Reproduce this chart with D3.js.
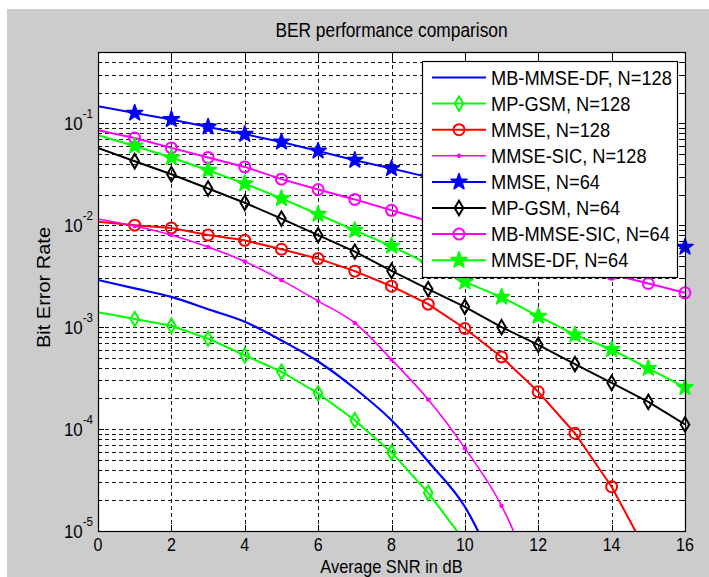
<!DOCTYPE html>
<html>
<head>
<meta charset="utf-8">
<script src="https://cdn.jsdelivr.net/npm/d3@7/dist/d3.min.js"></script>
<style>
  body { margin: 0; background: #fff; }
  text { font-family: "Liberation Sans", Arial, sans-serif; fill: #000; }
</style>
</head>
<body>
<div id="chart"></div>
<script>
// SNR points (dB)
const snr = d3.range(0, 17);

// BER values, one entry per SNR point
// (the last value of the steep curves is where the line leaves the axes)
const mbMmseDf128 = [2.9e-3, 2.4e-3, 1.98e-3, 1.5e-3, 1.13e-3, 7.4e-4, 4.6e-4, 2.5e-4, 1.22e-4, 4.8e-5, 1.73e-5, 3.2e-6];
const mpGsm128 = [1.4e-3, 1.2e-3, 1.03e-3, 7.7e-4, 5.3e-4, 3.65e-4, 2.24e-4, 1.22e-4, 5.9e-5, 2.37e-5, 7.9e-6];
const mmse128 = [1.08e-2, 1.0e-2, 9.4e-3, 8.0e-3, 7.1e-3, 5.8e-3, 4.7e-3, 3.54e-3, 2.52e-3, 1.68e-3, 9.7e-4, 5.1e-4, 2.32e-4, 9.1e-5, 2.72e-5, 5.8e-6];
const mmseSic128 = [1.15e-2, 9.8e-3, 8.0e-3, 6.1e-3, 4.4e-3, 2.89e-3, 1.8e-3, 1.1e-3, 4.8e-4, 1.95e-4, 6.5e-5, 1.77e-5, 2.6e-6];
const mmse64 = [0.147, 0.126, 0.109, 0.092, 0.078, 0.0656, 0.0535, 0.0434, 0.036, 0.0296, 0.0241, 0.0195, 0.0156, 0.01245, 0.0099, 0.0078, 0.0061];
const mpGsm64 = [0.0573, 0.0424, 0.0316, 0.0229, 0.0166, 0.0116, 7.98e-3, 5.5e-3, 3.56e-3, 2.36e-3, 1.58e-3, 1.0e-3, 6.7e-4, 4.34e-4, 2.84e-4, 1.85e-4, 1.11e-4];
const mbMmseSic64 = [0.0853, 0.0718, 0.0573, 0.0461, 0.0373, 0.0283, 0.0224, 0.0179, 0.014, 0.011, 8.6e-3, 6.76e-3, 5.3e-3, 4.2e-3, 3.3e-3, 2.68e-3, 2.17e-3];
const mmseDf64 = [0.0762, 0.0599, 0.0461, 0.0346, 0.0256, 0.0183, 0.0128, 8.9e-3, 6.24e-3, 4.17e-3, 2.78e-3, 1.97e-3, 1.28e-3, 8.4e-4, 6.04e-4, 3.94e-4, 2.56e-4];

const seriesNames = ['MB-MMSE-DF, N=128', 'MP-GSM, N=128', 'MMSE, N=128', 'MMSE-SIC, N=128',
                     'MMSE, N=64', 'MP-GSM, N=64', 'MB-MMSE-SIC, N=64', 'MMSE-DF, N=64'];
const seriesValues = [mbMmseDf128, mpGsm128, mmse128, mmseSic128, mmse64, mpGsm64, mbMmseSic64, mmseDf64];
const xTicks = [0, 2, 4, 6, 8, 10, 12, 14, 16];
const yDecades = [-5, -4, -3, -2, -1];
const xDomain = [0, 16];
const yDomain = [1e-5, 0.5];

const titleText = 'BER performance comparison';
const xLabelText = 'Average SNR in dB';
const yLabelText = 'Bit Error Rate';

// styles per series (same order as the names)
const styles = [
    { color: '#0000ff', marker: null, width: 2.2, curve: d3.curveMonotoneX },
    { color: '#00ff00', marker: 'diamond', width: 2 },
    { color: '#ff0000', marker: 'circle', width: 2 },
    { color: '#ff00ff', marker: 'dot', width: 1.6, curve: d3.curveMonotoneX },
    { color: '#0000ff', marker: 'star', width: 2 },
    { color: '#000000', marker: 'diamond', width: 2 },
    { color: '#ff00ff', marker: 'circle', width: 2 },
    { color: '#00ff00', marker: 'star', width: 2 }
];

const width = 709, height = 577;
const plot = { left: 98, right: 685, top: 52, bottom: 531 };
const SX = 0.89; // the source glyphs are a little narrower than Arial

const svg = d3.select('#chart').append('svg')
    .attr('width', width)
    .attr('height', height);

// figure background
svg.append('rect')
    .attr('x', 7).attr('y', 9)
    .attr('width', width - 7).attr('height', height - 9)
    .attr('fill', '#cccccc');

svg.append('rect')
    .attr('x', plot.left).attr('y', plot.top)
    .attr('width', plot.right - plot.left).attr('height', plot.bottom - plot.top)
    .attr('fill', '#ffffff');

const x = d3.scaleLinear().domain(xDomain).range([plot.left, plot.right]);
const y = d3.scaleLog().domain(yDomain).range([plot.bottom, plot.top]);

function addText(parent, px, py, str, size, anchor) {
    return parent.append('text')
        .attr('transform', `translate(${px},${py}) scale(${SX},1)`)
        .attr('font-size', size)
        .attr('text-anchor', anchor)
        .text(str);
}

// grid values: every 1..9 x 10^k inside the domain
const yGrid = [];
yDecades.forEach(k => {
    for (let m = 1; m <= 9; m++) {
        const v = m * Math.pow(10, k);
        if (v > yDomain[0] * 1.0001 && v < yDomain[1] * 0.9999) yGrid.push(v);
    }
});

const grid = svg.append('g')
    .attr('stroke', '#000')
    .attr('stroke-width', 1)
    .attr('stroke-dasharray', '4,3')
    .attr('opacity', 0.9);

grid.selectAll('.hgrid')
    .data(yGrid)
    .enter().append('line')
    .attr('class', 'hgrid')
    .attr('x1', plot.left).attr('x2', plot.right)
    .attr('y1', d => Math.round(y(d)) + 0.5)
    .attr('y2', d => Math.round(y(d)) + 0.5);

grid.selectAll('.vgrid')
    .data(xTicks.slice(1, -1))
    .enter().append('line')
    .attr('class', 'vgrid')
    .attr('x1', d => Math.round(x(d)) + 0.5)
    .attr('x2', d => Math.round(x(d)) + 0.5)
    .attr('y1', plot.bottom).attr('y2', plot.top);

// ticks (inward, both sides)
const ticks = svg.append('g').attr('stroke', '#000').attr('stroke-width', 1);
xTicks.forEach(t => {
    const px = Math.round(x(t)) + 0.5;
    ticks.append('line').attr('x1', px).attr('x2', px).attr('y1', plot.bottom).attr('y2', plot.bottom - 6);
    ticks.append('line').attr('x1', px).attr('x2', px).attr('y1', plot.top).attr('y2', plot.top + 6);
});
yGrid.concat(yDecades.map(k => Math.pow(10, k))).forEach(v => {
    const major = Math.abs(Math.log10(v) - Math.round(Math.log10(v))) < 1e-9;
    const len = major ? 6 : 4;
    const py = Math.round(y(v)) + 0.5;
    ticks.append('line').attr('x1', plot.left).attr('x2', plot.left + len).attr('y1', py).attr('y2', py);
    ticks.append('line').attr('x1', plot.right).attr('x2', plot.right - len).attr('y1', py).attr('y2', py);
});

// tick labels
xTicks.forEach(t => addText(svg, x(t), 551, String(t), 18, 'middle'));

yDecades.forEach(k => {
    const py = y(Math.pow(10, k));
    const t = svg.append('text')
        .attr('transform', `translate(93,${py + 6.5}) scale(${SX},1)`)
        .attr('font-size', 19)
        .attr('text-anchor', 'end');
    t.append('tspan').text('10');
    t.append('tspan').attr('dy', -12).attr('font-size', 13).text('-' + (-k));
});

// series
const clipId = 'plot-clip';
svg.append('clipPath').attr('id', clipId)
    .append('rect')
    .attr('x', plot.left).attr('y', plot.top)
    .attr('width', plot.right - plot.left).attr('height', plot.bottom - plot.top);

function markerPath(type) {
    if (type === 'diamond') return 'M0,-7.2L4.3,0L0,7.2L-4.3,0Z';
    if (type === 'star') {
        const pts = d3.range(10).map(i => {
            const r = i % 2 === 0 ? 8.5 : 3.4;
            const a = -Math.PI / 2 + i * Math.PI / 5;
            return [r * Math.cos(a), r * Math.sin(a)];
        });
        return 'M' + pts.map(p => p.join(',')).join('L') + 'Z';
    }
    return null;
}

function drawMarker(g, type, color, px, py) {
    if (type === 'circle') {
        g.append('circle').attr('cx', px).attr('cy', py).attr('r', 5.5)
            .attr('fill', 'none').attr('stroke', color).attr('stroke-width', 2);
    } else if (type === 'dot') {
        g.append('circle').attr('cx', px).attr('cy', py).attr('r', 2.2)
            .attr('fill', color);
    } else if (type === 'diamond') {
        g.append('path').attr('d', markerPath(type)).attr('transform', `translate(${px},${py})`)
            .attr('fill', 'none').attr('stroke', color).attr('stroke-width', 2);
    } else if (type === 'star') {
        g.append('path').attr('d', markerPath(type)).attr('transform', `translate(${px},${py})`)
            .attr('fill', color).attr('stroke', color).attr('stroke-width', 1.5)
            .attr('stroke-linejoin', 'round');
    }
}

const seriesG = svg.append('g');
seriesValues.forEach((vals, i) => {
    const st = styles[i];
    const pts = vals.map((v, j) => ({ x: snr[j], v: v }));
    const line = d3.line()
        .x(d => x(d.x))
        .y(d => y(d.v))
        .curve(st.curve || d3.curveLinear);

    const g = seriesG.append('g');
    g.append('path')
        .attr('clip-path', `url(#${clipId})`)
        .attr('d', line(pts))
        .attr('fill', 'none')
        .attr('stroke', st.color)
        .attr('stroke-width', st.width)
        .attr('stroke-linejoin', 'round');

    if (st.marker) {
        // markers start at 1 dB, only where the point is inside the axes
        pts.filter(d => d.x >= 1 && d.v >= yDomain[0]).forEach(d => {
            drawMarker(g, st.marker, st.color, x(d.x), y(d.v));
        });
    }
});

// axes box
svg.append('rect')
    .attr('x', plot.left + 0.5).attr('y', plot.top + 0.5)
    .attr('width', plot.right - plot.left).attr('height', plot.bottom - plot.top)
    .attr('fill', 'none')
    .attr('stroke', '#000')
    .attr('stroke-width', 1.2);

// legend
const legend = { x: 422, y: 61, w: 255, h: 216, row0: 77.5, rowStep: 26.1 };
const lg = svg.append('g');
lg.append('rect')
    .attr('x', legend.x + 0.5).attr('y', legend.y + 0.5)
    .attr('width', legend.w).attr('height', legend.h)
    .attr('fill', '#fff')
    .attr('stroke', '#000')
    .attr('stroke-width', 1.2);

seriesNames.forEach((name, i) => {
    const st = styles[i];
    const ry = legend.row0 + i * legend.rowStep;
    lg.append('line')
        .attr('x1', 432).attr('x2', 486)
        .attr('y1', ry).attr('y2', ry)
        .attr('stroke', st.color)
        .attr('stroke-width', st.width);
    if (st.marker) drawMarker(lg, st.marker, st.color, 459, ry);
    addText(lg, 491, ry + 7, name, 20.5, 'start');
});

// title and axis labels
addText(svg, (plot.left + plot.right) / 2, 37, titleText, 19.5, 'middle');
addText(svg, (plot.left + plot.right) / 2, 573, xLabelText, 18.5, 'middle');
svg.append('text')
    .attr('transform', `translate(49.5,${(plot.top + plot.bottom) / 2 - 4}) rotate(-90) scale(1,${SX})`)
    .attr('font-size', 20)
    .attr('text-anchor', 'middle')
    .text(yLabelText);
</script>
</body>
</html>
